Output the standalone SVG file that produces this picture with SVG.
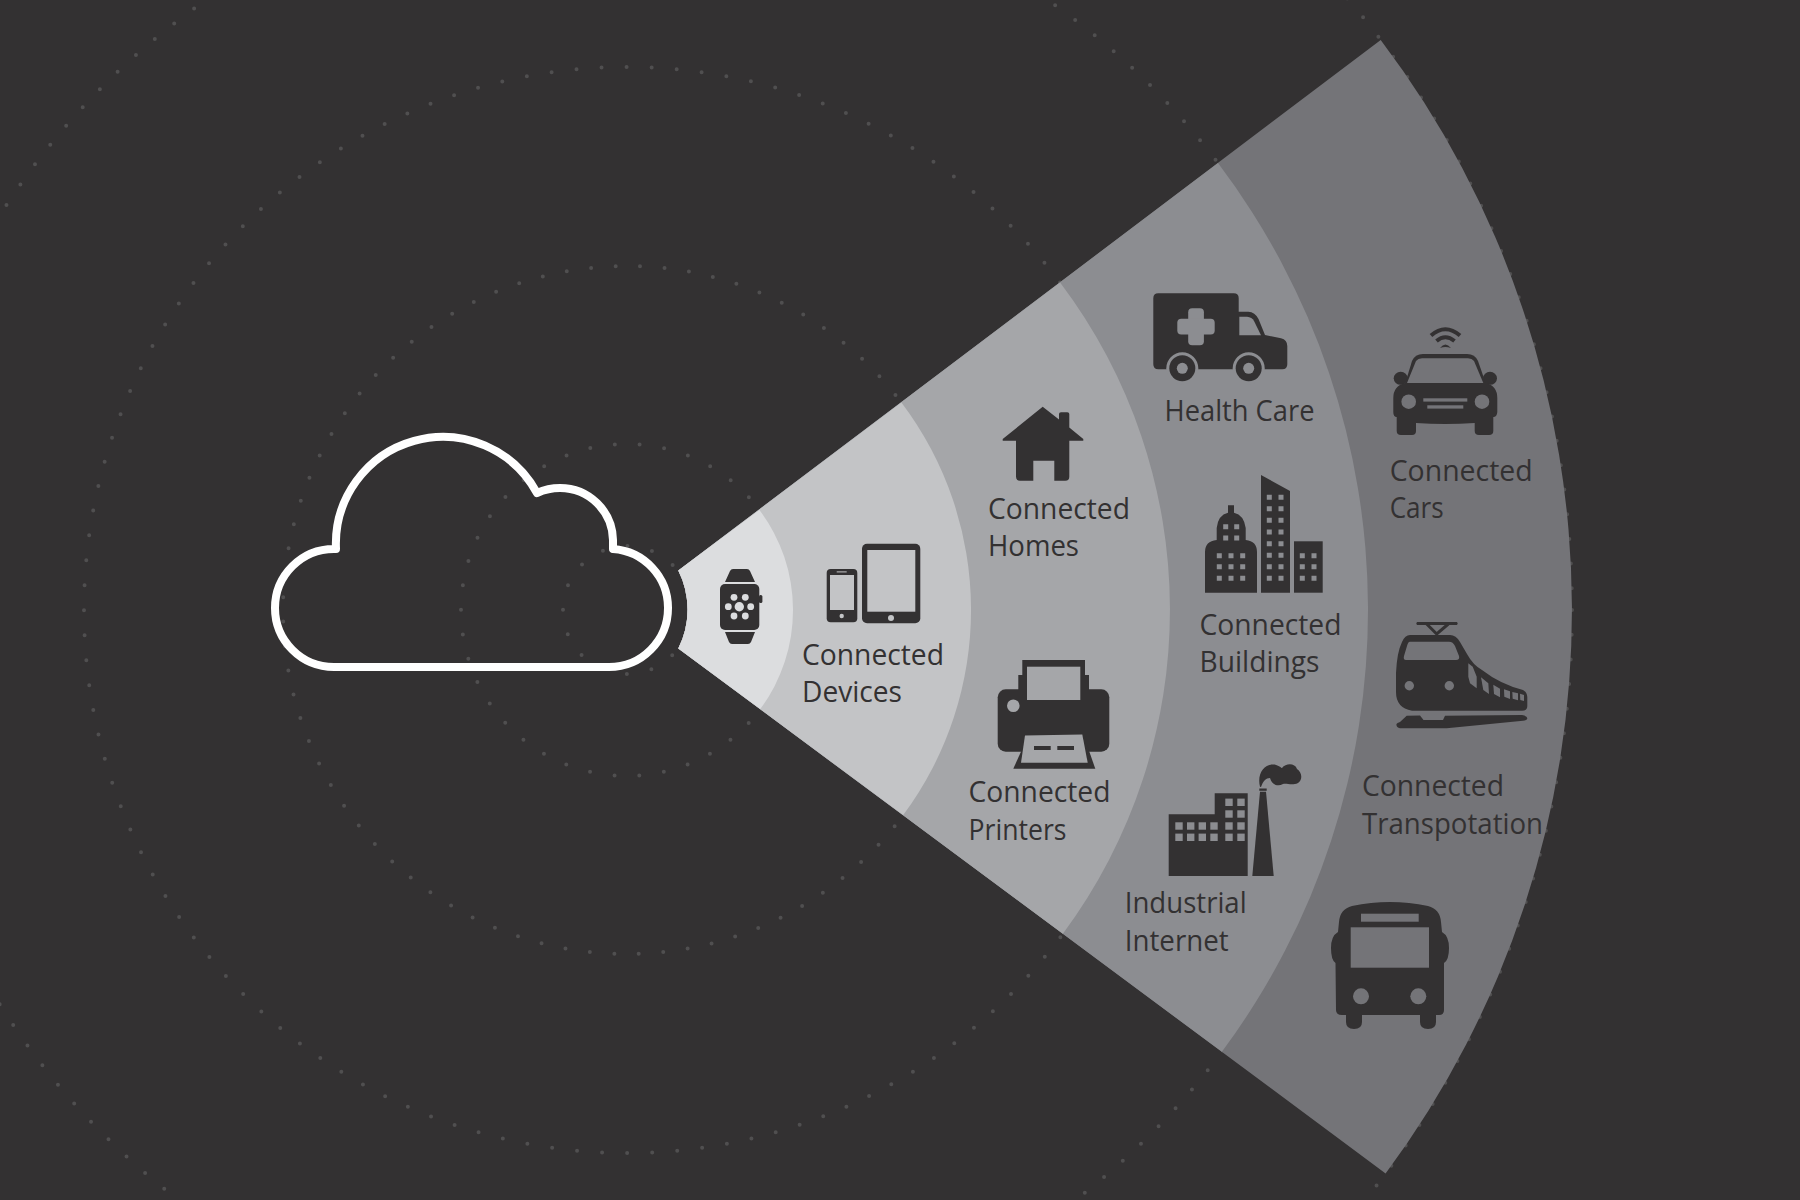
<svg xmlns="http://www.w3.org/2000/svg" width="1800" height="1200" viewBox="0 0 1800 1200">
<style>
.ring{fill:none;stroke:#504f50;stroke-width:4;stroke-linecap:round}
.d{fill:#333132}
.b1{fill:#dcdddf}.b2{fill:#c3c4c6}.b3{fill:#a5a6a9}.b4{fill:#8c8d91}.b5{fill:#747478}
text{font-family:"Open Sans","Noto Sans","Liberation Sans",sans-serif;font-size:29px;fill:#333132}
</style>
<rect width="1800" height="1200" fill="#333132"/>
<g id="dotted-rings">
<circle class="ring" cx="627" cy="610" r="64" stroke-dasharray="0 25.13"/>
<circle class="ring" cx="627" cy="610" r="166" stroke-dasharray="0 24.83"/>
<circle class="ring" cx="627" cy="610" r="344" stroke-dasharray="0 24.56" stroke-dashoffset="12"/>
<circle class="ring" cx="627" cy="610" r="543" stroke-dasharray="0 25.08"/>
<circle class="ring" cx="627" cy="610" r="741" stroke-dasharray="0 24.83"/>
<circle class="ring" cx="627" cy="610" r="945" stroke-dasharray="0 24.75"/>
</g>
<g id="bands">
<path class="b5" d="M678.3 570.5L1380.7 40A945 945 0 0 1 1385.6 1173.4L678.3 648.5A87 87 0 0 0 678.3 570.5Z"/>
<path class="b4" d="M678.3 570.5L1218 163A741 741 0 0 1 1221.9 1051.8L678.3 648.5A87 87 0 0 0 678.3 570.5Z"/>
<path class="b3" d="M678.3 570.5L1060.1 282.5A543 543 0 0 1 1062.9 933.7L678.3 648.5A87 87 0 0 0 678.3 570.5Z"/>
<path class="b2" d="M678.3 570.5L901.4 402.5A344 344 0 0 1 903.2 815.1L678.3 648.5A87 87 0 0 0 678.3 570.5Z"/>
<path class="b1" d="M678.3 570.5L759.4 509.9A166 166 0 0 1 760.3 709L678.3 648.5A87 87 0 0 0 678.3 570.5Z"/>
</g>
<g id="cloud">
<path fill="none" stroke="#fff" stroke-width="8" stroke-linejoin="round" d="M336 549A107 107 0 0 1 537 493Q548 488 560 488A53 53 0 0 1 613 540L613 549A59 59 0 0 1 668 608A59 59 0 0 1 609 667L334 667A59 59 0 0 1 275 608A59 59 0 0 1 334 549Z"/>
</g>
<g id="watch">
<path class="d" d="M725 582L730 571Q731 569 733 569L747 569Q749 569 750 571L755 582ZM725 632L755 632L751 642Q750 644 748 644L732 644Q730 644 729 642Z"/>
<rect class="d" x="720" y="584" width="39.3" height="46" rx="5"/>
<rect class="d" x="759" y="595" width="3.4" height="8" rx="1.5"/>
<g class="b1"><circle cx="739.3" cy="606.7" r="4.7"/><circle cx="734" cy="597.3" r="3.4"/><circle cx="745.3" cy="597.3" r="3.4"/><circle cx="728.3" cy="606.7" r="3.4"/><circle cx="750.7" cy="606.7" r="3.4"/><circle cx="734" cy="616" r="3.4"/><circle cx="745.3" cy="616" r="3.4"/></g>
</g>
<g id="connected-devices">
<rect class="d" x="826.7" y="569" width="30.6" height="53.3" rx="4"/>
<rect class="b2" x="830" y="575" width="24" height="35"/>
<rect class="b2" x="836.7" y="571.4" width="10" height="1"/>
<circle class="b2" cx="841.7" cy="616" r="2.2"/>
<rect class="d" x="862" y="543.7" width="58.3" height="79.6" rx="5"/>
<rect class="b2" x="867.3" y="550" width="48" height="61.7"/>
<circle class="b2" cx="891" cy="618" r="3"/>
<text x="802" y="665" textLength="142" lengthAdjust="spacingAndGlyphs">Connected</text>
<text x="802" y="702" textLength="100" lengthAdjust="spacingAndGlyphs">Devices</text>
</g>
<g id="connected-homes">
<path class="d" d="M1042.7 406.7L1059 419.5L1059 414Q1059 412.3 1061 412.3L1067.3 412.3Q1069.3 412.3 1069.3 414L1069.3 427.5L1083.3 439L1083.3 440.7L1069.3 440.7L1069.3 476.7Q1069.3 480.7 1065.3 480.7L1054.3 480.7L1054.3 460.7L1033.3 460.7L1033.3 480.7L1020 480.7Q1016 480.7 1016 476.7L1016 440.7L1002.7 440.7L1002.7 439Z"/>
<text x="988" y="519" textLength="142" lengthAdjust="spacingAndGlyphs">Connected</text>
<text x="988" y="556" textLength="91" lengthAdjust="spacingAndGlyphs">Homes</text>
</g>
<g id="connected-printers">
<rect class="d" x="997.7" y="689.3" width="111.6" height="62.4" rx="8"/>
<path class="d" d="M1018.3 690L1018.3 675L1022.3 675L1022.3 660L1085 660L1085 675L1089 675L1089 690Z"/>
<rect class="b3" x="1027" y="666.7" width="53.3" height="33.3"/>
<circle class="b3" cx="1013.3" cy="705.7" r="6.3"/>
<path class="d" d="M1024 745L1013.3 768.7L1095.3 768.7L1087 745Z"/>
<path class="b3" d="M1025 735.5L1082.3 734.5L1087.7 762.7L1021 762.7Z"/>
<rect class="d" x="1034" y="746" width="16.7" height="4"/>
<rect class="d" x="1057.3" y="746" width="16.7" height="4"/>
<text x="968.5" y="802" textLength="142" lengthAdjust="spacingAndGlyphs">Connected</text>
<text x="968.5" y="840" textLength="98" lengthAdjust="spacingAndGlyphs">Printers</text>
</g>
<g id="industrial-internet">
<path class="d" d="M1168.7 876L1168.7 814.3L1214.7 814.3L1214.7 793.3L1247.7 793.3L1247.7 876Z"/>
<g class="b4">
<rect x="1225.3" y="798.6" width="7.4" height="7.4"/><rect x="1237.3" y="798.6" width="7.4" height="7.4"/>
<rect x="1225.3" y="810.3" width="7.4" height="7.4"/><rect x="1237.3" y="810.3" width="7.4" height="7.4"/>
<rect x="1175.3" y="822.3" width="7.4" height="7.4"/><rect x="1187" y="822.3" width="7.4" height="7.4"/><rect x="1198.6" y="822.3" width="7.4" height="7.4"/><rect x="1210.3" y="822.3" width="7.4" height="7.4"/><rect x="1225.3" y="822.3" width="7.4" height="7.4"/><rect x="1237.3" y="822.3" width="7.4" height="7.4"/>
<rect x="1175.3" y="833.6" width="7.4" height="7.4"/><rect x="1187" y="833.6" width="7.4" height="7.4"/><rect x="1198.6" y="833.6" width="7.4" height="7.4"/><rect x="1210.3" y="833.6" width="7.4" height="7.4"/><rect x="1225.3" y="833.6" width="7.4" height="7.4"/><rect x="1237.3" y="833.6" width="7.4" height="7.4"/>
</g>
<path class="d" d="M1252.3 876L1273.7 876L1266 791.7L1260 791.7Z"/>
<rect class="d" x="1259.3" y="788.5" width="7.4" height="2.3"/>
<path class="d" d="M1260 786.7C1257 775 1263 765 1272 764.5C1277 764 1280 767 1282 768C1286 763 1295 763 1297 769C1302 772 1303 780 1298 783C1292 786 1287 783 1283 784C1278 787 1272 785 1270 778C1266 778 1263 781 1261 787Z"/>
<text x="1124.7" y="913" textLength="122" lengthAdjust="spacingAndGlyphs">Industrial</text>
<text x="1124.7" y="951" textLength="104" lengthAdjust="spacingAndGlyphs">Internet</text>
</g>
<g id="health-care">
<path class="d" d="M1158.3 293.3L1233.7 293.3Q1238.7 293.3 1238.7 298.3L1238.7 311.7L1248.3 311.7Q1255 312 1258.5 319L1265 335L1281 338.3Q1287.3 340 1287.3 346L1287.3 364.3Q1287.3 369.3 1282.3 369.3L1158.3 369.3Q1153.3 369.3 1153.3 364.3L1153.3 298.3Q1153.3 293.3 1158.3 293.3Z"/>
<path class="b4" d="M1239.3 316.7L1247 316.7Q1252 317 1254 321L1261 335.3L1239.3 335.3Z"/>
<g class="b4"><rect x="1188.2" y="308.3" width="15.7" height="37" rx="4"/><rect x="1177.3" y="318.8" width="37.4" height="15.7" rx="4"/></g>
<circle class="b4" cx="1182.3" cy="368.3" r="16"/><circle class="d" cx="1182.3" cy="368.3" r="13"/><circle class="b4" cx="1182.3" cy="368.3" r="5.5"/>
<circle class="b4" cx="1248.7" cy="368.3" r="16"/><circle class="d" cx="1248.7" cy="368.3" r="13"/><circle class="b4" cx="1248.7" cy="368.3" r="5.5"/>
<text x="1164.5" y="421" textLength="150" lengthAdjust="spacingAndGlyphs">Health Care</text>
</g>
<g id="connected-buildings">
<path class="d" d="M1205 592.7L1205 552Q1205 541 1216.7 540L1216.7 528Q1218 515 1228 512.7L1228 505.3L1234 505.3L1234 512.7Q1244 515 1245.7 528L1245.7 540Q1257 541 1257 552L1257 592.7Z"/>
<path class="d" d="M1261 592.7L1261 475L1290 491L1290 592.7Z"/>
<rect class="d" x="1294" y="541.3" width="28.7" height="51.4"/>
<path class="b4" d="M1223.2 524.2h5v5h-5zM1234.2 524.2h5v5h-5zM1223.2 535.5h5v5h-5zM1234.2 535.5h5v5h-5zM1216.8 553.2h5v5h-5zM1228.5 553.2h5v5h-5zM1240.2 553.2h5v5h-5zM1216.8 564.2h5v5h-5zM1228.5 564.2h5v5h-5zM1240.2 564.2h5v5h-5zM1216.8 575.8h5v5h-5zM1228.5 575.8h5v5h-5zM1240.2 575.8h5v5h-5zM1266.8 494.8h5v5h-5zM1278.5 494.8h5v5h-5zM1266.8 506.2h5v5h-5zM1278.5 506.2h5v5h-5zM1266.8 517.8h5v5h-5zM1278.5 517.8h5v5h-5zM1266.8 529.5h5v5h-5zM1278.5 529.5h5v5h-5zM1266.8 541.2h5v5h-5zM1278.5 541.2h5v5h-5zM1266.8 552.8h5v5h-5zM1278.5 552.8h5v5h-5zM1266.8 564.2h5v5h-5zM1278.5 564.2h5v5h-5zM1266.8 575.8h5v5h-5zM1278.5 575.8h5v5h-5zM1299.8 553.2h5v5h-5zM1311.5 553.2h5v5h-5zM1299.8 564.2h5v5h-5zM1311.5 564.2h5v5h-5zM1299.8 575.8h5v5h-5zM1311.5 575.8h5v5h-5z"/>
<text x="1199.5" y="635" textLength="142" lengthAdjust="spacingAndGlyphs">Connected</text>
<text x="1199.5" y="671.5" textLength="120" lengthAdjust="spacingAndGlyphs">Buildings</text>
</g>
<g id="connected-cars">
<path fill="none" stroke="#333132" stroke-width="4" d="M1431 335.5Q1445.3 323 1460 335.5M1436.5 341Q1445.3 333.5 1454.5 341"/>
<path class="d" d="M1440 348Q1445.3 341 1451 348Q1445.3 346 1440 348Z"/>
<ellipse class="d" cx="1400.7" cy="378.3" rx="7" ry="6.5"/><ellipse class="d" cx="1490" cy="378.3" rx="7" ry="6.5"/>
<path class="d" d="M1405 384L1412 361Q1415 354 1423 354L1467 354Q1475 354 1478 361L1486 384Z"/>
<path class="b5" d="M1407 383L1416 361Q1418 358.3 1422 358.3L1468 358.3Q1472 358.3 1474 361L1483.3 383Z"/>
<path class="d" d="M1405 383L1486 383Q1497.3 386 1497.3 398L1497.3 412Q1497 417 1493.3 417L1493.3 431Q1493.3 435 1489 435L1479 435Q1474.7 435 1474.7 431L1474.7 423Q1445 425 1416 423L1416 431Q1416 435 1412 435L1401 435Q1396.7 435 1396.7 431L1396.7 417Q1393.3 417 1393.3 412L1393.3 398Q1393.3 386 1405 383Z"/>
<circle class="b5" cx="1408.7" cy="401.7" r="7.3"/><circle class="b5" cx="1482" cy="401.7" r="7.3"/>
<rect class="b5" x="1423.3" y="398.3" width="44" height="3.3"/><rect class="b5" x="1427.3" y="405.3" width="36" height="3.3"/>
<text x="1389.7" y="481" textLength="143" lengthAdjust="spacingAndGlyphs">Connected</text>
<text x="1389.7" y="518" textLength="54" lengthAdjust="spacingAndGlyphs">Cars</text>
</g>
<g id="connected-transportation">
<path fill="none" stroke="#333132" stroke-width="3" d="M1426.7 624L1436.7 634L1448.3 624"/>
<path class="d" d="M1417 622L1457 622Q1458.5 623.5 1457 625L1417 625Q1415.5 623.5 1417 622Z"/>
<path class="d" d="M1410 635L1450 635Q1456 635 1460 642L1467 654Q1473 665 1482 670Q1500 684 1523 690Q1527 692 1527.3 697L1527.3 706Q1527.3 710.7 1522 710.7L1412 710.7Q1396 708 1396 692L1396 673Q1397 652 1402 642Q1405 635 1410 635Z"/>
<path class="b5" d="M1410 641.7L1449 641.7Q1453 641.7 1455 646L1459 656Q1460 660 1456 660L1406 660Q1403 660 1404 656L1407 646Q1408 641.7 1410 641.7Z"/>
<circle class="b5" cx="1409.3" cy="685.7" r="4.7"/><circle class="b5" cx="1449.3" cy="685.7" r="4.7"/>
<g class="b5">
<polygon points="1468.3,663.3 1472.7,666.7 1476.7,676.7 1476.7,688.3 1470,683.3 1468.3,676.7"/>
<polygon points="1481,677.3 1488.3,683.3 1489,694 1483.3,690"/>
<polygon points="1493.3,684.7 1500,688.7 1500,697.3 1494,694"/>
<polygon points="1504,689.3 1510,691.3 1510,699 1504.3,696.7"/>
<polygon points="1512.3,692 1518,693.3 1518,700.3 1512.7,698.7"/>
<polygon points="1520,693.7 1524,695 1524,701 1520.3,700"/>
</g>
<path class="d" d="M1400 722L1406.7 715.7L1420 715.5L1423.5 720L1443 720L1445 715.7L1522 715Q1527.3 716 1527.3 718.3Q1527.3 720.5 1523 720.7L1446.7 728.3L1400 728.3Q1396 727 1396.5 724Q1397 723 1400 722Z"/>
<text x="1362" y="796" textLength="142" lengthAdjust="spacingAndGlyphs">Connected</text>
<text x="1362" y="833.5" textLength="181" lengthAdjust="spacingAndGlyphs">Transpotation</text>
<g id="bus">
<path class="d" d="M1339 922Q1340 909 1352 906Q1390 898 1428 906Q1440 909 1441 922L1442 932Q1449 936 1449 948Q1449 960 1444 963L1444 1010Q1444 1015 1439 1015L1436 1015L1436 1022Q1436 1029 1428 1029Q1420 1029 1420 1022L1420 1015L1362 1015L1362 1022Q1362 1029 1354 1029Q1346 1029 1346 1022L1346 1015L1342 1015Q1336 1015 1336 1010L1335.5 963Q1331 960 1331 948Q1331 936 1338 932Z"/>
<rect class="b5" x="1350.7" y="927.3" width="78.3" height="40.4"/>
<rect class="b5" x="1361" y="913.7" width="57.7" height="8"/>
<circle class="b5" cx="1361" cy="996.3" r="8"/><circle class="b5" cx="1418.3" cy="996.3" r="8"/>
</g>
</g>
</svg>
